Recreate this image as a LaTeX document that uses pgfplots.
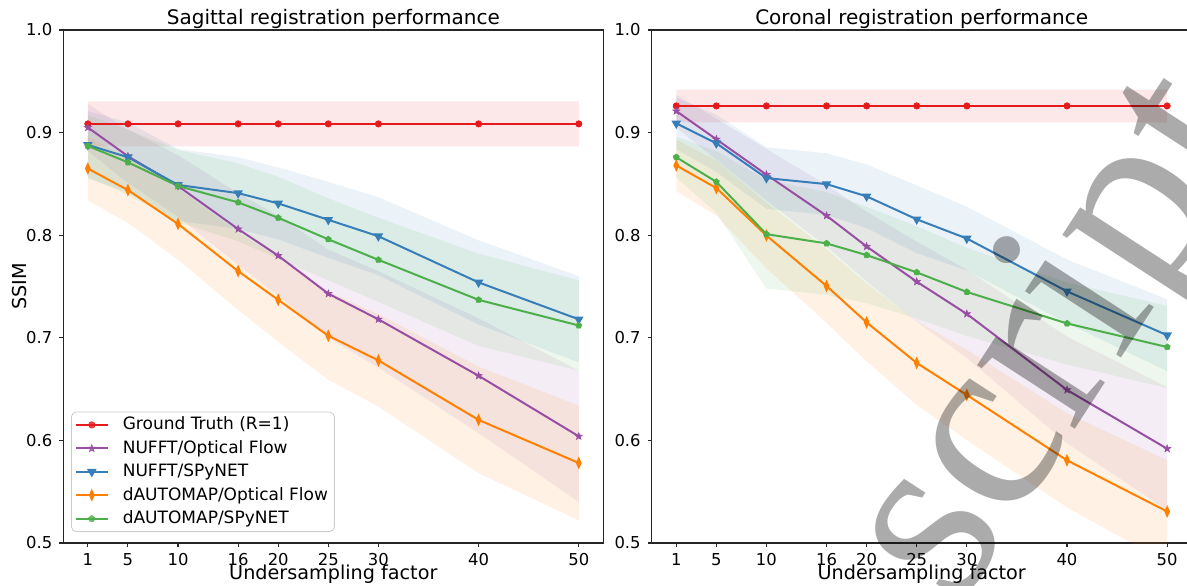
\documentclass[border=0pt]{standalone}
\usepackage{fontspec}
\setmainfont{DejaVu Sans}
\newfontfamily\wmfont{Liberation Serif}
\usepackage{pgfplots}
\usepackage{pgfplotstable}
\pgfplotsset{compat=1.18}
\usepgfplotslibrary{fillbetween}
\usetikzlibrary{plotmarks}

\definecolor{cRed}{HTML}{E41A1C}
\definecolor{cPur}{HTML}{984EA3}
\definecolor{cBlu}{HTML}{377EB8}
\definecolor{cOra}{HTML}{FF7F00}
\definecolor{cGre}{HTML}{4DAF4A}

% filled five-pointed star (matplotlib '*')
\pgfdeclareplotmark{fstar}{%
  \pgfpathmoveto{\pgfpointpolar{90}{\pgfplotmarksize}}%
  \pgfpathlineto{\pgfpointpolar{126}{0.42\pgfplotmarksize}}%
  \pgfpathlineto{\pgfpointpolar{162}{\pgfplotmarksize}}%
  \pgfpathlineto{\pgfpointpolar{198}{0.42\pgfplotmarksize}}%
  \pgfpathlineto{\pgfpointpolar{234}{\pgfplotmarksize}}%
  \pgfpathlineto{\pgfpointpolar{270}{0.42\pgfplotmarksize}}%
  \pgfpathlineto{\pgfpointpolar{306}{\pgfplotmarksize}}%
  \pgfpathlineto{\pgfpointpolar{342}{0.42\pgfplotmarksize}}%
  \pgfpathlineto{\pgfpointpolar{18}{\pgfplotmarksize}}%
  \pgfpathlineto{\pgfpointpolar{54}{0.42\pgfplotmarksize}}%
  \pgfpathclose
  \pgfusepathqfillstroke}

% mean and std per series, sagittal
\pgfplotstableread{
x  gt     gts   nof    nofs  nsp    nsps  dof    dofs  dsp    dsps
1  0.9085 0.022 0.905  0.023 0.888  0.033 0.865  0.031 0.887  0.030
5  0.9085 0.022 0.877  0.026 0.876  0.034 0.844  0.032 0.871  0.032
10 0.9085 0.022 0.848  0.030 0.849  0.035 0.811  0.035 0.848  0.035
16 0.9085 0.022 0.806  0.035 0.841  0.035 0.765  0.038 0.832  0.038
20 0.9085 0.022 0.780  0.039 0.831  0.035 0.737  0.041 0.817  0.040
25 0.9085 0.022 0.743  0.043 0.815  0.037 0.702  0.043 0.796  0.040
30 0.9085 0.022 0.718  0.047 0.799  0.038 0.678  0.045 0.776  0.041
40 0.9085 0.022 0.663  0.056 0.754  0.041 0.620  0.052 0.737  0.045
50 0.9085 0.022 0.604  0.064 0.718  0.042 0.578  0.056 0.712  0.044
}\sag

% coronal
\pgfplotstableread{
x  gt     gts   nof    nofs  nsp    nsps  dof    dofs  dsp    dsps
1  0.926  0.016 0.921  0.016 0.909  0.025 0.868  0.025 0.876  0.020
5  0.926  0.016 0.8935 0.020 0.8896 0.028 0.846  0.027 0.852  0.030
10 0.926  0.016 0.859  0.025 0.8557 0.030 0.7997 0.032 0.801  0.053
16 0.926  0.016 0.819  0.030 0.8498 0.030 0.7505 0.036 0.792  0.050
20 0.926  0.016 0.789  0.034 0.8379 0.031 0.715  0.038 0.7806 0.047
25 0.926  0.016 0.7547 0.039 0.8155 0.033 0.6755 0.041 0.7638 0.045
30 0.926  0.016 0.7233 0.043 0.7968 0.031 0.6443 0.044 0.7447 0.043
40 0.926  0.016 0.6492 0.052 0.7453 0.031 0.5806 0.046 0.714  0.040
50 0.926  0.016 0.5919 0.060 0.7025 0.035 0.5307 0.050 0.691  0.040
}\cor

% shaded +-std band: table, mean col, std col, colour
\newcommand{\band}[4]{%
  \addplot[draw=none, forget plot, name path=#2u] table[x=x, y expr=\thisrow{#2}+\thisrow{#3}] {#1};
  \addplot[draw=none, forget plot, name path=#2l] table[x=x, y expr=\thisrow{#2}-\thisrow{#3}] {#1};
  \addplot[draw=none, fill=#4, fill opacity=0.1, forget plot] fill between[of=#2u and #2l];
}

\newcommand{\lines}[1]{%
  \addplot[cRed, ln, mark=*, mark size=1.6pt] table[x=x, y=gt] {#1};
  \addplot[cPur, ln, mark=fstar, mark size=1.9pt] table[x=x, y=nof] {#1};
  \addplot[cBlu, ln, mark=triangle*, mark size=1.8pt, mark options={rotate=180}] table[x=x, y=nsp] {#1};
  \addplot[cOra, ln, mark=diamond*, mark size=2pt, mark options={xscale=0.6}] table[x=x, y=dof] {#1};
  \addplot[cGre, ln, mark=pentagon*, mark size=1.6pt] table[x=x, y=dsp] {#1};
}

\pgfplotsset{
  ln/.style={line width=1pt, mark options={solid, line width=0.3pt}},
  panel/.style={
    scale only axis, width=270pt, height=256.5pt,
    xmin=-1.45, xmax=52.45, ymin=0.5, ymax=1.0,
    xtick={1,5,10,16,20,25,30,40,50},
    ytick={0.5,0.6,0.7,0.8,0.9,1.0},
    /pgf/number format/assume math mode=true,
    yticklabel style={/pgf/number format/fixed, /pgf/number format/fixed zerofill, /pgf/number format/precision=1},
    xticklabel style={inner ysep=0pt, yshift=-2.9pt},
    tick pos=left, tick align=outside, major tick length=2pt,
    axis line style={black!85, line width=0.55pt},
    every tick/.style={black!85, line width=0.55pt},
    tick label style={font=\fontsize{8.2pt}{9pt}\selectfont},
    every axis title/.style={font=\fontsize{10pt}{12pt}\selectfont, at={(axis description cs:0.5,1)}, anchor=base, yshift=2.6pt},
    every axis x label/.style={font=\fontsize{9.6pt}{11pt}\selectfont, at={(axis description cs:0.5,0)}, anchor=base, inner sep=0pt, yshift=-18.2pt},
    ylabel style={font=\fontsize{9.6pt}{11pt}\selectfont, at={(axis description cs:-0.0802,0.5)}, anchor=center},
    xlabel={Undersampling factor},
  },
}

\begin{document}
\begin{tikzpicture}
\begin{axis}[panel, at={(31.65pt,21pt)}, anchor=south west,
    title={Sagittal registration performance}, ylabel={SSIM},
    legend cell align=left,
    legend image code/.code={\draw[mark repeat=2, mark phase=2, #1] plot coordinates {(0pt,0pt) (8pt,0pt) (16pt,0pt)};},
    legend style={at={(axis description cs:0.0143,0.0214)}, anchor=south west,
      draw=black!20, rounded corners=2.5pt, fill=white, fill opacity=0.8, text opacity=1, draw opacity=1,
      font=\fontsize{8.5pt}{9pt}\selectfont, inner xsep=1.7pt, inner ysep=1pt,
      column sep=5.5pt, row sep=0.8pt, nodes={inner xsep=1.5pt, inner ysep=1.5pt}}]
\band{\sag}{gt}{gts}{cRed}
\band{\sag}{nof}{nofs}{cPur}
\band{\sag}{nsp}{nsps}{cBlu}
\band{\sag}{dof}{dofs}{cOra}
\band{\sag}{dsp}{dsps}{cGre}
\lines{\sag}
\legend{Ground Truth (R=1), NUFFT/Optical Flow, NUFFT/SPyNET, dAUTOMAP/Optical Flow, dAUTOMAP/SPyNET}
\end{axis}

\begin{axis}[panel, at={(325.85pt,21pt)}, anchor=south west,
    title={Coronal registration performance}]
\band{\cor}{gt}{gts}{cRed}
\band{\cor}{nof}{nofs}{cPur}
\band{\cor}{nsp}{nsps}{cBlu}
\band{\cor}{dof}{dofs}{cOra}
\band{\cor}{dsp}{dsps}{cGre}
\lines{\cor}
\end{axis}

% manuscript watermark crossing the right panel
\node[anchor=base west, rotate=57, inner sep=0pt, text=black, text opacity=0.33,
      font=\wmfont\fontsize{127pt}{127pt}\selectfont] at (478.5pt,-13pt) {script};

\pgfresetboundingbox
\useasboundingbox (0,0) rectangle (593.5pt,292.5pt);
\end{tikzpicture}
\end{document}
